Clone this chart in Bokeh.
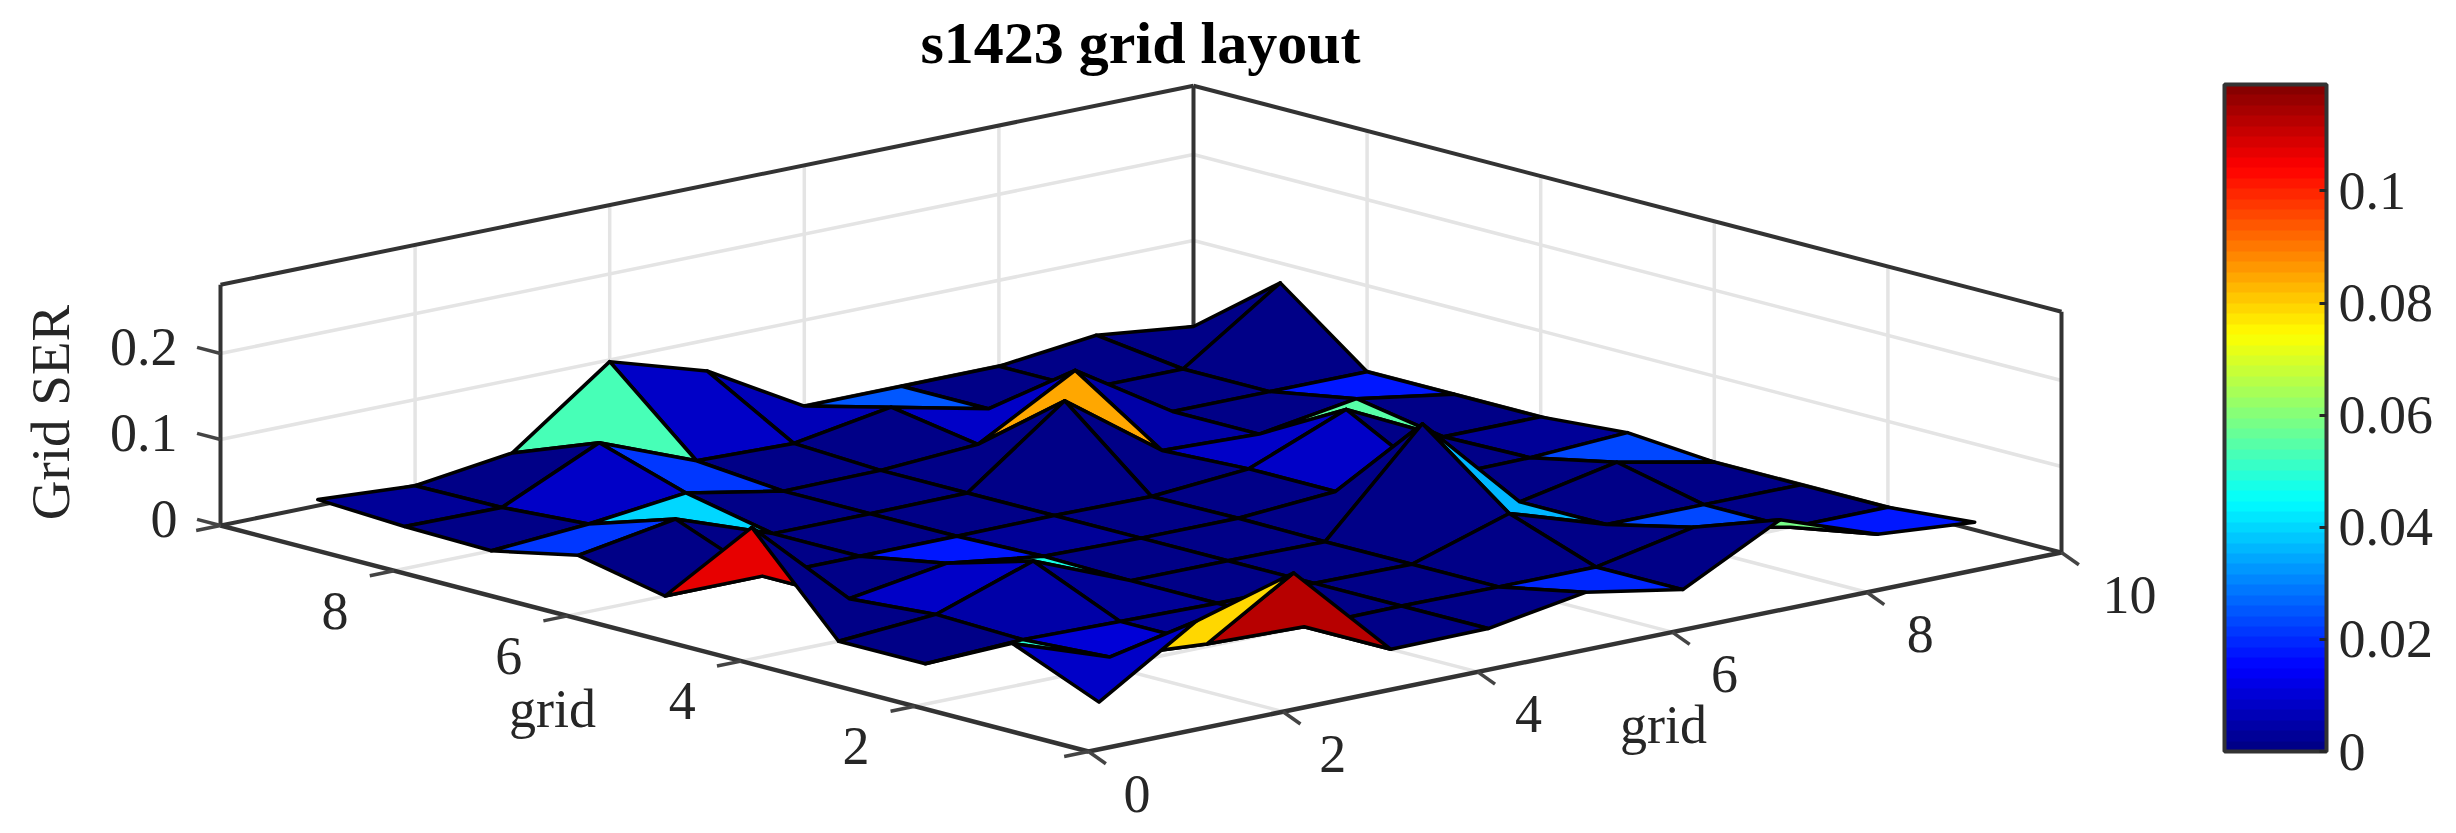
from bokeh.core.properties import value
from bokeh.embed import file_html
from bokeh.models import ColorBar, ColumnDataSource, FixedTicker, LinearColorMapper
from bokeh.plotting import figure
from bokeh.resources import INLINE

# Grid SER per grid cell, one row per x = 1..10, columns are y = 1..10
ser_x1 = [.008, .050, .000, .000, .106, .000, .021, .000, .002, .007]
ser_x2 = [.079, .011, .005, .008, .000, .000, .040, .008, .001, .000]
ser_x3 = [.112, .003, .003, .047, .018, .000, .000, .021, .053, .015]
ser_x4 = [.000, .000, .001, .001, .003, .000, .000, .000, .009, .098]
ser_x5 = [.001, .001, .001, .001, .001, .001, .001, .001, .006, .064]
ser_x6 = [.020, .000, .000, .000, .001, .000, .085, .008, .025, .000]
ser_x7 = [.000, .000, .036, .114, .009, .009, .004, .071, .000, .000]
ser_x8 = [.058, .023, .000, .000, .001, .055, .000, .000, .000, .000]
ser_x9 = [.018, .000, .000, .023, .002, .000, .018, .000, .000, .013]
ser_x10 = [.009, .000, .000, .000, .008, .000, .000, .000, .077, .000]
ser = [ser_x1, ser_x2, ser_x3, ser_x4, ser_x5, ser_x6, ser_x7, ser_x8, ser_x9, ser_x10]

grid_ticks = [2, 4, 6, 8]
z_ticks = [0.1, 0.2]
z_top = 0.28
color_max = 0.119
colorbar_ticks = [0, 0.02, 0.04, 0.06, 0.08, 0.1]

TEXT = "#262626"
FONT = value("Liberation Serif")
LABEL_SIZE = "54px"


def project(x, y, z=0.0):
    # fixed MATLAB style view of the box, gives picture coordinates
    return 1088 + 97.3 * x - 86.8 * y, 751 - 19.9 * x - 22.6 * y - 860 * z


def jet(n):
    out = []
    for i in range(n):
        t = (i + 0.5) / n
        r = min(max(1.5 - abs(4 * t - 3), 0), 1)
        g = min(max(1.5 - abs(4 * t - 2), 0), 1)
        b = min(max(1.5 - abs(4 * t - 1), 0), 1)
        out.append("#%02x%02x%02x" % (int(r * 255), int(g * 255), int(b * 255)))
    return out


def segment(a, b):
    pa, pb = project(*a), project(*b)
    return [pa[0], pb[0]], [pa[1], pb[1]]


p = figure(width=2448, height=825, x_range=(0, 2448), y_range=(825, 0),
           x_axis_type=None, y_axis_type=None, toolbar_location=None,
           output_backend="svg", min_border=0, outline_line_color=None)
p.grid.visible = False

# Light grid on the two walls and the floor
grid = []
for t in grid_ticks:
    grid.append(segment((t, 10, 0), (t, 10, z_top)))
    grid.append(segment((10, t, 0), (10, t, z_top)))
    grid.append(segment((t, 0, 0), (t, 10, 0)))
    grid.append(segment((0, t, 0), (10, t, 0)))
for z in z_ticks:
    grid.append(segment((0, 10, z), (10, 10, z)))
    grid.append(segment((10, 0, z), (10, 10, z)))
p.multi_line([g[0] for g in grid], [g[1] for g in grid], line_color="#e4e4e4", line_width=3.5)

# Box
box = [
    segment((0, 10, 0), (10, 10, 0)), segment((10, 0, 0), (10, 10, 0)),
    segment((0, 10, z_top), (10, 10, z_top)), segment((10, 0, z_top), (10, 10, z_top)),
    segment((0, 10, 0), (0, 10, z_top)), segment((10, 0, 0), (10, 0, z_top)),
    segment((10, 10, 0), (10, 10, z_top)),
]
p.multi_line([b[0] for b in box], [b[1] for b in box], line_color="#333333", line_width=4)

# Surface, back to front, each face coloured from its lowest corner
faces = sorted(((i, j) for i in range(9) for j in range(9)), key=lambda f: -(f[0] + f[1]))
xs, ys, values = [], [], []
for i, j in faces:
    corners = [(i, j), (i, j + 1), (i + 1, j + 1), (i + 1, j)]
    pts = [project(a + 1, b + 1, ser[a][b]) for a, b in corners]
    xs.append([pt[0] for pt in pts])
    ys.append([pt[1] for pt in pts])
    values.append(ser[i][j])

mapper = LinearColorMapper(palette=jet(64), low=0, high=color_max)
source = ColumnDataSource(data=dict(xs=xs, ys=ys, ser=values))
p.patches("xs", "ys", source=source, fill_color={"field": "ser", "transform": mapper},
          line_color="#000000", line_width=3.5, line_join="round")

# Front axes and ticks
front = [segment((0, 0, 0), (0, 10, 0)), segment((0, 0, 0), (10, 0, 0))]
p.multi_line([f[0] for f in front], [f[1] for f in front], line_color="#333333", line_width=4.5)
ticks = []
for t in [0] + grid_ticks + [10]:
    ticks.append(segment((t, 0, 0), (t, -0.2, -0.009)))
    ticks.append(segment((0, t, 0), (-0.25, t, 0)))
for z in [0] + z_ticks:
    ticks.append(segment((0, 10, z), (0, 10.27, z)))
p.multi_line([f[0] for f in ticks], [f[1] for f in ticks], line_color="#444444", line_width=3.5)

# Tick labels
for t in grid_ticks:
    px, py = project(0, t)
    p.text([px - 59], [py + 40], text=[str(t)], text_font=FONT, text_font_size=LABEL_SIZE,
           text_color=TEXT, text_align="center", text_baseline="middle")
for t in [0] + grid_ticks + [10]:
    px, py = project(t, 0)
    p.text([px + 35 + t * 0.6], [py + 42], text=[str(t)], text_font=FONT, text_font_size=LABEL_SIZE,
           text_color=TEXT, text_align="left", text_baseline="middle")
for z in [0] + z_ticks:
    px, py = project(0, 10, z)
    p.text([px - 43], [py - 7], text=[str(z) if z else "0"], text_font=FONT, text_font_size=LABEL_SIZE,
           text_color=TEXT, text_align="right", text_baseline="middle")

p.text([1140], [42], text=["s1423 grid layout"], text_font=FONT, text_font_size="60px",
       text_font_style="bold", text_color="black", text_align="center", text_baseline="middle")
p.text([552], [708], text=["grid"], text_font=FONT, text_font_size=LABEL_SIZE, text_color=TEXT,
       text_align="center", text_baseline="middle")
p.text([1663], [724], text=["grid"], text_font=FONT, text_font_size=LABEL_SIZE, text_color=TEXT,
       text_align="center", text_baseline="middle")
p.text([50], [412], text=["Grid SER"], text_font=FONT, text_font_size="55px", text_color=TEXT,
       text_align="center", text_baseline="middle", angle=1.5708)

bar = ColorBar(color_mapper=mapper, location=(2224, 74), width=102, height=667,
               ticker=FixedTicker(ticks=colorbar_ticks),
               major_label_overrides={t: ("%g" % t) for t in colorbar_ticks},
               major_label_text_font="Liberation Serif", major_label_text_font_size=LABEL_SIZE,
               major_label_text_color=TEXT, label_standoff=12, padding=0, margin=0,
               bar_line_color="#333333", bar_line_width=4,
               major_tick_line_color="#262626", major_tick_line_width=3,
               major_tick_in=7, major_tick_out=0, minor_tick_line_color=None,
               background_fill_color=None, border_line_color=None)
p.add_layout(bar)

open("out.html", "w").write(file_html(p, INLINE))
